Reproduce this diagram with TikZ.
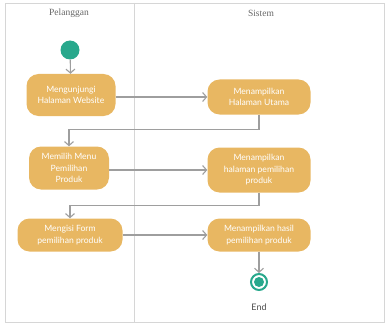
\documentclass[tikz,border=0pt]{standalone}
\usepackage{fontspec}
\setmainfont{Lato}
\newfontfamily\headfont{Liberation Serif}
\usetikzlibrary{arrows.meta}
\definecolor{actfill}{RGB}{232,183,98}
\definecolor{startteal}{RGB}{40,168,140}
\definecolor{flowgray}{RGB}{158,158,158}
\definecolor{lanegray}{RGB}{214,214,214}
\tikzset{
	activity/.style={
			rectangle, rounded corners=12pt, fill=actfill, draw=none,
			text=white, align=center, font=\fontsize{8.6}{11.5}\selectfont,
			minimum width=#1, inner sep=3pt
		},
	flow/.style={draw=flowgray, line width=1.1pt,
			-{Straight Barb[length=4pt,width=9pt,line width=1.1pt]}},
	lanetitle/.style={font=\headfont\fontsize{9.5}{10}\selectfont, text=black!60}
}

\begin{document}
\begin{tikzpicture}[x=1pt, y=-1pt]

			\useasboundingbox (0,0) rectangle (387,326);

			% Draw the swimlanes
			\draw[lanegray, line width=0.9pt] (5,3) rectangle (384,322);
			\draw[lanegray, line width=0.9pt] (134,3) -- (134,322);
			\node[lanetitle] (lane1) at (69,13) {Pelanggan};
			\node[lanetitle] (lane2) at (261,13) {Sistem};

			% Draw the start and end points
			\fill[startteal] (70,50) circle (9.5pt) coordinate (start);
			\node[circle, minimum size=19pt, inner sep=0pt] (startnode) at (start) {};
			\node[circle, draw=startteal, line width=2pt, fill=white, minimum size=16pt, inner sep=0pt] (finish) at (259,282) {};
			\fill[startteal] (finish) circle (5pt);
			\node[font=\fontsize{9}{10}\selectfont, text=black!70] (endlabel) at (259,307) {End};

			% Draw the activities
			\node[activity=89pt, minimum height=42pt] (visit) at (71,95) {Mengunjungi\\Halaman Website};
			\node[activity=103pt, minimum height=35pt] (home) at (259,97) {Menampilkan\\Halaman Utama};
			\node[activity=80pt, minimum height=43pt] (menu) at (69,168) {Memilih Menu\\Pemilihan\\Produk};
			\node[activity=103pt, minimum height=45pt] (page) at (259,170) {Menampilkan\\halaman pemilihan\\produk};
			\node[activity=105pt, minimum height=33pt] (form) at (70,235) {Mengisi Form\\pemilihan produk};
			\node[activity=103pt, minimum height=33pt] (result) at (259,235) {Menampilkan hasil\\pemilihan produk};

			% Draw the flows
			\draw[flow] (startnode) -- (visit);
			\draw[flow] (visit.east |- home) -- (home);
			\draw[flow] (home.south) -- ++(0,15) -| (menu.north);
			\draw[flow] (menu.east |- page) -- (page);
			\draw[flow] (page.south) -- ++(0,13) -| (form.north);
			\draw[flow] (form) -- (result);
			\draw[flow] (result) -- (finish);
		\end{tikzpicture}
\end{document}
